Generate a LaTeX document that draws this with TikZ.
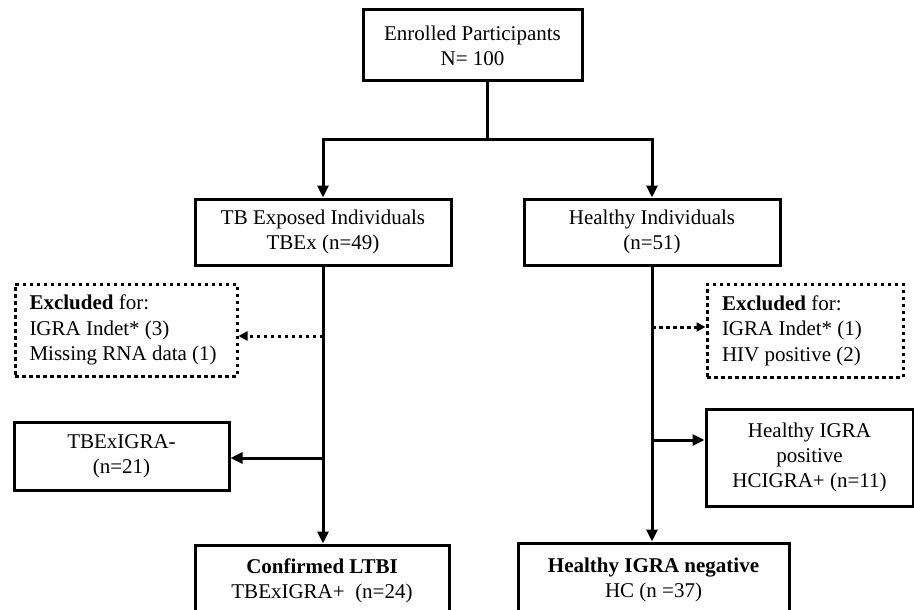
\documentclass[tikz,border=0pt]{standalone}
\usepackage{fontspec}
\setmainfont{Liberation Serif}
\usetikzlibrary{arrows.meta,calc}
\tikzset{
  box/.style={draw, line width=3pt, align=center, inner sep=0pt,
    font=\fontsize{21}{25}\selectfont},
  dbox/.style={draw, line width=3pt, dash pattern=on 3.5pt off 3.5pt, align=flush left,
    inner sep=0pt, text width=#1, font=\fontsize{21}{25.5}\selectfont},
  conn/.style={line width=3pt, -{Triangle[length=12pt,width=11pt]}},
  plain/.style={line width=3pt},
  dconn/.style={line width=3pt, dash pattern=on 3.5pt off 3.5pt, -{Triangle[length=9pt,width=9pt]}},
}
\begin{document}
\begin{tikzpicture}[x=1pt,y=-1pt]
\useasboundingbox (0,0) rectangle (914,610);
\clip (0,0) rectangle (914,610);
\node[box, minimum width=219pt, minimum height=71pt] (enr) at (472.5,45.5) {Enrolled Participants\\N= 100};
\node[box, minimum width=256pt, minimum height=66pt] (tb) at (323,232) {TB Exposed Individuals\\TBEx (n=49)};
\node[box, minimum width=256pt, minimum height=66pt] (hi) at (652,232) {Healthy Individuals\\(n=51)};
\node[dbox=193pt, minimum width=222pt, minimum height=92pt] (exl) at (126,330) {\textbf{Excluded} for:\\IGRA Indet* (3)\\Missing RNA data (1)};
\node[dbox=166pt, minimum width=196pt, minimum height=93pt] (exr) at (805,330.5) {\textbf{Excluded} for:\\IGRA Indet* (1)\\HIV positive (2)};
\node[box, minimum width=215pt, minimum height=68pt] (tbn) at (121.5,456) {TBExIGRA-\\(n=21)};
\node[box, minimum width=207pt, minimum height=97pt] (hp) at (809.5,457.5) {Healthy IGRA\\positive\\HCIGRA+ (n=11)};
\node[box, minimum width=254pt, minimum height=72pt] (conf) at (322,581) {\textbf{Confirmed LTBI}\\TBExIGRA+\ \ (n=24)};
\node[box, minimum width=271pt, minimum height=74pt] (hn) at (653.5,580) {\textbf{Healthy IGRA negative}\\HC (n =37)};
\coordinate (j) at (487,139);
\draw[plain] (enr.south -| j) -- (j);
\draw[conn] (j) -| (tb.north);
\draw[conn] (j) -| (hi.north);
\draw[conn] (tb.south) -- (conf.north -| tb.south);
\draw[conn] (hi.south) -- (hn.north -| hi.south);
\coordinate (bl1) at (323,336);
\coordinate (bl2) at (323,458);
\coordinate (br1) at (652,327);
\coordinate (br2) at (652,440);
\draw[dconn] (bl1) -- (bl1 -| exl.east);
\draw[conn] (bl2) -- (bl2 -| tbn.east);
\draw[dconn] (br1) -- (br1 -| exr.west);
\draw[conn] (br2) -- (br2 -| hp.west);
\end{tikzpicture}
\end{document}
